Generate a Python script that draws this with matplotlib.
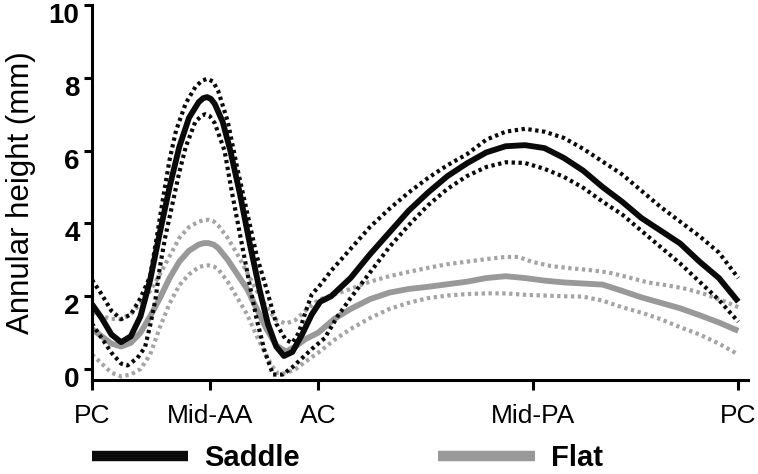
import matplotlib
matplotlib.use("Agg")
import matplotlib.pyplot as plt
from matplotlib.lines import Line2D
from matplotlib.transforms import ScaledTranslation

plt.rcParams['font.family'] = ['Liberation Sans', 'DejaVu Sans']

# position along the annulus (% of perimeter, PC -> PC)
tick_pos = [0, 18.3, 35.0, 68.3, 100]
tick_labels = ["PC", "Mid-AA", "AC", "Mid-PA", "PC"]

# -------- Saddle --------
saddle_x = [0, 1.5, 3.0, 4.5, 6.0, 7.5, 9.0, 10.5, 12.0, 13.5, 15.0, 16.5, 17.2, 17.8, 18.4,
            19.0, 20.2, 21.4, 22.9, 24.4, 25.9, 27.2, 28.5, 29.7, 31.0, 32.5, 34.0, 35.3,
            37.0, 40.0, 43.0, 46.0, 49.0, 52.0, 55.0, 58.0, 61.0, 64.0, 67.0, 70.0,
            73.0, 76.0, 79.0, 82.0, 85.0, 88.0, 91.0, 94.0, 97.0, 100.0]
saddle_mean = [1.78, 1.40, 0.95, 0.74, 0.90, 1.45, 2.45, 3.75, 5.0, 6.1, 6.9, 7.33, 7.44, 7.47, 7.42,
               7.28, 6.8, 6.0, 4.8, 3.45, 2.2, 1.25, 0.62, 0.36, 0.47, 0.95, 1.5, 1.85,
               2.0, 2.5, 3.15, 3.75, 4.35, 4.85, 5.3, 5.65, 5.95, 6.12, 6.15, 6.07,
               5.8, 5.45, 5.0, 4.6, 4.15, 3.8, 3.45, 2.95, 2.5, 1.85]

saddle_up_x = [0, 1.5, 3.0, 4.5, 6.0, 7.5, 9.0, 10.0, 11.0, 12.0, 13.0, 14.5, 16.0, 17.0, 17.8,
               18.7, 19.5, 21.0, 22.5, 24.0, 25.5, 27.0, 28.5, 30.0, 31.0, 32.0, 33.0, 34.0,
               35.5, 37.0, 40.0, 43.0, 46.0, 49.0, 52.0, 55.0, 58.0, 61.0, 64.0, 67.0,
               70.0, 73.0, 76.0, 79.0, 82.0, 85.0, 88.0, 91.0, 94.0, 97.0, 100.0]
saddle_up = [2.45, 2.05, 1.6, 1.37, 1.5, 1.95, 2.55, 3.6, 4.7, 5.75, 6.55, 7.3, 7.75, 7.92, 7.97,
             7.9, 7.65, 6.8, 5.5, 4.3, 3.1, 2.2, 1.25, 0.8, 0.72, 1.0, 1.55, 2.05,
             2.35, 2.7, 3.3, 3.9, 4.4, 4.85, 5.25, 5.6, 5.9, 6.3, 6.52, 6.6,
             6.52, 6.35, 6.05, 5.7, 5.35, 4.9, 4.45, 4.05, 3.65, 3.2, 2.5]

saddle_lo_x = [0, 1.5, 3.0, 4.5, 5.5, 7.0, 8.2, 9.0, 9.8, 10.5, 11.3, 12.4, 13.5, 14.5,
               16.0, 17.0, 17.5, 18.2, 19.0, 20.5, 21.6, 23.0, 24.3, 25.5, 26.7, 28.0, 29.5, 31.0,
               32.5, 34.0, 36.0, 38.0, 40.0, 43.0, 46.0, 49.0, 52.0, 55.0, 58.0, 61.0,
               64.0, 67.0, 70.0, 73.0, 76.0, 79.0, 82.0, 85.0, 88.0, 91.0, 94.0, 97.0, 100.0]
saddle_lo = [1.25, 0.85, 0.45, 0.15, 0.1, 0.3, 0.6, 1.2, 1.9, 2.8, 3.6, 4.5, 5.4, 6.1,
             6.8, 6.96, 7.0, 6.95, 6.75, 6.0, 4.9, 3.6, 2.4, 1.35, 0.5, -0.15, -0.15, 0.05,
             0.3, 0.55, 0.85, 1.45, 1.95, 2.65, 3.35, 3.95, 4.5, 4.95, 5.3, 5.55,
             5.68, 5.66, 5.5, 5.28, 4.98, 4.6, 4.25, 3.8, 3.35, 2.9, 2.4, 1.9, 1.3]

# -------- Flat --------
flat_x = [0, 1.5, 3.0, 4.5, 6.0, 7.5, 9.0, 10.5, 12.0, 13.5, 15.0, 16.5, 17.3, 18.0, 18.8, 19.5,
          21.0, 22.5, 24.0, 25.5, 27.0, 28.5, 30.0, 31.5, 33.0, 35.0, 37.5, 40.0,
          43.0, 46.0, 49.0, 52.0, 55.0, 58.0, 61.0, 64.0, 67.0, 70.0, 73.0, 76.0,
          79.0, 82.0, 85.0, 88.0, 91.0, 94.0, 97.0, 100.0]
flat_mean = [1.1, 0.9, 0.7, 0.62, 0.72, 1.0, 1.45, 1.95, 2.5, 2.95, 3.25, 3.42, 3.46, 3.46, 3.42, 3.33,
             3.0, 2.6, 2.2, 1.65, 1.1, 0.65, 0.48, 0.62, 0.82, 1.0, 1.38, 1.65,
             1.92, 2.1, 2.2, 2.26, 2.33, 2.4, 2.5, 2.55, 2.5, 2.43, 2.38, 2.35,
             2.32, 2.15, 1.97, 1.82, 1.67, 1.48, 1.28, 1.05]

flat_up_x = [0, 1.5, 3.0, 4.5, 6.0, 7.5, 9.0, 10.5, 12.0, 13.5, 15.0, 16.5, 17.3, 18.0, 18.8, 19.5,
             21.0, 22.5, 24.0, 25.5, 27.0, 28.5, 30.0, 31.5, 33.0, 35.0, 37.5, 40.0,
             43.0, 46.0, 49.0, 52.0, 55.0, 58.0, 61.0, 64.0, 66.0, 68.0, 71.0, 74.0,
             77.0, 80.0, 83.0, 86.0, 89.0, 92.0, 95.0, 98.0, 100.0]
flat_up = [1.55, 1.45, 1.38, 1.37, 1.5, 1.8, 2.15, 2.6, 3.1, 3.6, 3.9, 4.05, 4.09, 4.1, 4.06, 3.95,
           3.6, 3.15, 2.65, 2.15, 1.7, 1.35, 1.25, 1.35, 1.6, 1.9, 2.05, 2.2,
           2.4, 2.55, 2.67, 2.78, 2.88, 2.95, 3.02, 3.08, 3.08, 2.95, 2.83, 2.77,
           2.72, 2.65, 2.52, 2.38, 2.3, 2.2, 2.05, 1.85, 1.7]

flat_lo_x = [0, 1.5, 3.0, 4.5, 6.0, 7.5, 9.0, 10.5, 12.0, 13.5, 15.0, 16.5, 17.3, 18.0, 18.8, 19.5,
             21.0, 22.5, 24.0, 25.5, 27.0, 28.5, 30.0, 31.5, 33.0, 35.0, 37.5, 40.0,
             43.0, 46.0, 49.0, 52.0, 55.0, 58.0, 61.0, 64.0, 67.0, 70.0, 73.0, 76.0,
             79.0, 82.0, 85.0, 88.0, 91.0, 94.0, 97.0, 100.0]
flat_lo = [0.4, 0.15, -0.1, -0.2, -0.15, 0.0, 0.4, 1.15, 1.8, 2.3, 2.6, 2.8, 2.84, 2.85, 2.82, 2.75,
           2.4, 1.95, 1.5, 0.9, 0.35, -0.1, -0.12, 0.0, 0.2, 0.45, 0.8, 1.1,
           1.4, 1.65, 1.82, 1.95, 2.02, 2.06, 2.08, 2.08, 2.04, 2.02, 2.0, 1.99,
           1.88, 1.7, 1.55, 1.37, 1.15, 0.95, 0.7, 0.4]

black = "#0a0a0a"
gray = "#999999"
gray_dot = "#a4a4a4"
dots = (0, (0.8, 0.85))

fig = plt.figure(figsize=(7.58, 4.74), dpi=100)
ax = fig.add_axes([0.1214, 0.1983, 0.8654, 0.7912])

dot_kw = dict(lw=3.0, ls=dots, dash_joinstyle='round')
solid_kw = dict(lw=4.2, solid_capstyle='butt', solid_joinstyle='round')

# -------- Flat curves --------
ax.plot(flat_up_x, flat_up, color=gray_dot, **dot_kw)
ax.plot(flat_lo_x, flat_lo, color=gray_dot, **dot_kw)
ax.plot(flat_x, flat_mean, color=gray, **solid_kw)

# -------- Saddle curves --------
ax.plot(saddle_up_x, saddle_up, color=black, **dot_kw)
ax.plot(saddle_lo_x, saddle_lo, color=black, **dot_kw)
ax.plot(saddle_x, saddle_mean, color=black, **solid_kw)

ax.set_xlim(0, 101.5)
ax.set_ylim(-0.3, 10)
ax.set_yticks([0, 2, 4, 6, 8, 10])
ax.set_xticks(tick_pos)
ax.set_xticklabels(tick_labels)

for s in ["top", "right"]:
    ax.spines[s].set_visible(False)
for s in ["left", "bottom"]:
    ax.spines[s].set_linewidth(2.2)
    ax.spines[s].set_color("black")

ax.tick_params(axis="y", length=6, width=2.2, labelsize=20, pad=3)
ax.tick_params(axis="x", length=7, width=2.2, labelsize=19, pad=10)

# y labels sit a bit below their ticks in the original
shift = ScaledTranslation(0, -0.08, fig.dpi_scale_trans)
for lab in ax.get_yticklabels():
    lab.set_fontweight("bold")
    lab.set_transform(lab.get_transform() + shift)

ax.set_ylabel("Annular height (mm)", fontsize=22.5, labelpad=9)

# -------- Legend --------
handles = [Line2D([], [], color=black, lw=7.5, solid_capstyle='butt'),
           Line2D([], [], color=gray, lw=7.5, solid_capstyle='butt')]
fig.legend(handles, ["Saddle", "Flat"], loc="center left",
           bbox_to_anchor=(0.1214, 0.033), ncol=2, frameon=False,
           handlelength=3.3, handletextpad=0.55, columnspacing=4.75,
           borderpad=0, borderaxespad=0,
           prop={"weight": "bold", "size": 21})

fig.savefig("out.png", dpi=100)
